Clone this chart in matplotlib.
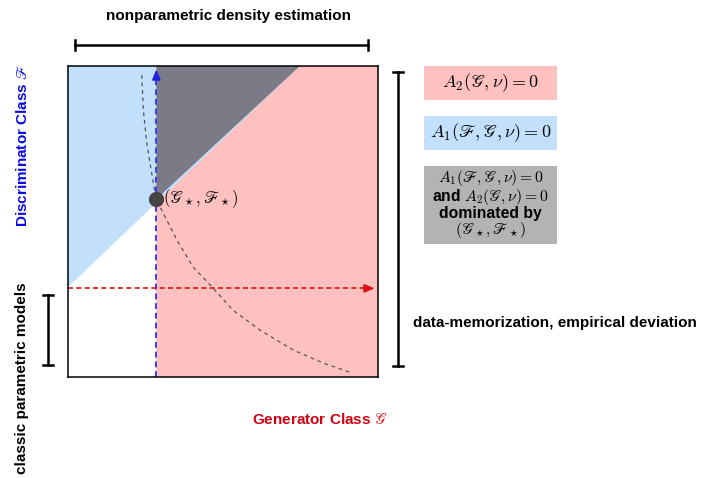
import numpy as np
import matplotlib
matplotlib.use('Agg')
import matplotlib.pyplot as plt

plt.rcParams['font.family'] = ['Liberation Sans', 'DejaVu Sans']
plt.rcParams['mathtext.fontset'] = 'cm'

# optimum point (G*, F*) in the unit square
x_star = 0.285
y_star = 0.572
# boundary of the A1 = 0 region (blue), passes through the optimum
blue_left_y = 0.289
blue_top_x = 0.748
# level of the classic parametric models (red dashed arrow)
y_param = 0.285
# dashed trade-off curve
curve_x = [0.238, 0.243, 0.254, 0.270, 0.284, 0.297, 0.351, 0.403, 0.468,
           0.532, 0.619, 0.726, 0.823, 0.916]
curve_y = [0.971, 0.859, 0.752, 0.656, 0.572, 0.547, 0.441, 0.354, 0.286,
           0.215, 0.151, 0.087, 0.045, 0.013]

legend_red = r'$A_2(\mathscr{G},\nu)=0$'
legend_blue = r'$A_1(\mathscr{F},\mathscr{G},\nu)=0$'
legend_gray = [r'$A_1(\mathscr{F},\mathscr{G},\nu)=0$',
               r'and $A_2(\mathscr{G},\nu)=0$',
               'dominated by',
               r'$(\mathscr{G}_\star,\mathscr{F}_\star)$']

c_red = '#ffc0c0'
c_blue = '#c2e0fc'
c_gray = '#7a7b86'

W, H = 701, 478
fig = plt.figure(figsize=(W / 100, H / 100), dpi=100)
ax = fig.add_axes([68 / W, (H - 377) / H, 310 / W, 311 / H])
ax.set_xlim(0, 1)
ax.set_ylim(0, 1)
ax.set_xticks([])
ax.set_yticks([])
for s in ax.spines.values():
    s.set_linewidth(1.1)
    s.set_zorder(10)

# regions
ax.fill([x_star, 1, 1, x_star], [0, 0, 1, 1], color=c_red, lw=0, zorder=1)
ax.fill([0, blue_top_x, 0], [blue_left_y, 1, 1], color=c_blue, lw=0, zorder=2)
ax.fill([x_star, blue_top_x, x_star], [y_star, 1, 1], color=c_gray, lw=0, zorder=3)

# dashed curve
ax.plot(curve_x, curve_y, ls=(0, (3, 3)), color='#555555', lw=0.9, zorder=4)

# blue vertical dashed arrow
ax.plot([x_star, x_star], [0, 0.97], ls=(0, (3, 2)), color='#3a3aff', lw=1.4, zorder=5)
ax.annotate('', xy=(x_star, 0.998), xytext=(x_star, 0.95),
            arrowprops=dict(arrowstyle='-|>,head_width=0.25,head_length=0.6',
                            color='#2020e0', lw=1.2), zorder=6)
# red horizontal dashed arrow
ax.plot([0, 0.97], [y_param, y_param], ls=(0, (3, 2)), color='#dd1111', lw=1.2, zorder=5)
ax.annotate('', xy=(0.998, y_param), xytext=(0.95, y_param),
            arrowprops=dict(arrowstyle='-|>,head_width=0.25,head_length=0.6',
                            color='#dd1111', lw=1.2), zorder=6)

# optimum point
ax.plot([x_star], [y_star], 'o', color='#444444', ms=10, zorder=7)
ax.text(x_star + 0.02, y_star, r'$(\mathscr{G}_\star,\mathscr{F}_\star)$',
        fontsize=12, va='center', ha='left', zorder=8)

# overlay in pixel coordinates for the annotation bars and legend
ov = fig.add_axes([0, 0, 1, 1], zorder=-1)
ov.set_xlim(0, W)
ov.set_ylim(H, 0)
ov.axis('off')


def hbar(x0, x1, y):
    ov.plot([x0, x1], [y, y], color='black', lw=1.8)
    for x in (x0, x1):
        ov.plot([x, x], [y - 5, y + 5], color='black', lw=1.8)


def vbar(x, y0, y1):
    ov.plot([x, x], [y0, y1], color='black', lw=1.8)
    for y in (y0, y1):
        ov.plot([x - 5, x + 5], [y, y], color='black', lw=1.8)


hbar(75, 368, 45)
vbar(398, 72, 366)
vbar(48, 295, 365)

ov.text(228, 16, 'nonparametric density estimation', fontsize=11,
        fontweight='bold', ha='center', va='center')
ov.text(413, 323, 'data-memorization, empirical deviation', fontsize=11,
        fontweight='bold', ha='left', va='center')
ov.text(22, 378, 'classic parametric models', fontsize=11, fontweight='bold',
        ha='center', va='center', rotation=90)
ov.text(23, 145, r'Discriminator Class $\mathscr{F}$', fontsize=11,
        fontweight='bold', color='#0a0ae0', ha='center', va='center',
        rotation=90)
ov.text(320, 420, r'Generator Class $\mathscr{G}$', fontsize=11,
        fontweight='bold', color='#d00010', ha='center', va='center')

# legend boxes
ov.fill([424, 557, 557, 424], [66, 66, 100, 100], color=c_red, lw=0)
ov.text(490.5, 83, legend_red, fontsize=13, ha='center', va='center')
ov.fill([424, 557, 557, 424], [116, 116, 150, 150], color=c_blue, lw=0)
ov.text(490.5, 133, legend_blue, fontsize=13, ha='center', va='center')
ov.fill([424, 557, 557, 424], [166, 166, 244, 244], color='#b3b3b3', lw=0)
ov.text(490.5, 204, '\n'.join(legend_gray), fontsize=11.3, fontweight='bold',
        ha='center', va='center', linespacing=0.93)

fig.savefig('out.png', dpi=100)
